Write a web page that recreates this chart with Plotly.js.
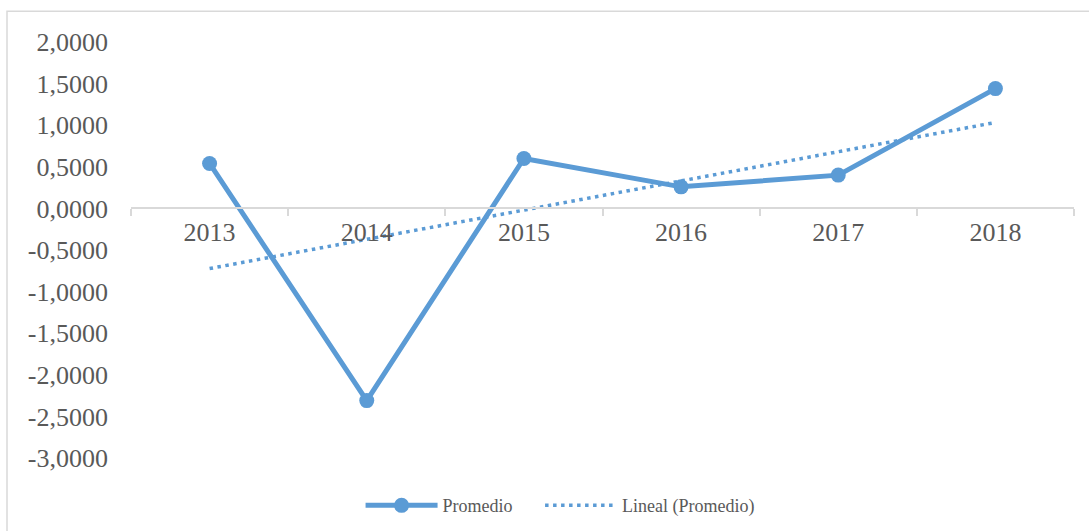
<!DOCTYPE html>
<html>
<head>
<meta charset="utf-8">
<script src="https://cdn.plot.ly/plotly-3.0.1.min.js"></script>
<style>
  html, body { margin: 0; padding: 0; background: #ffffff; }
  #chart { width: 1089px; height: 531px; }
</style>
</head>
<body>
<div id="chart"></div>
<script>
// Data
const years = ['2013', '2014', '2015', '2016', '2017', '2018'];
const promedio = [0.540, -2.310, 0.600, 0.259, 0.400, 1.440];
const yTickValues = [2, 1.5, 1, 0.5, 0, -0.5, -1, -1.5, -2, -2.5, -3];
const yTickLabels = ['2,0000', '1,5000', '1,0000', '0,5000', '0,0000', '-0,5000',
                     '-1,0000', '-1,5000', '-2,0000', '-2,5000', '-3,0000'];

// Linear trendline (least squares on the series, as in the source "Lineal (Promedio)")
const n = promedio.length;
const idx = promedio.map((_, i) => i + 1);
const mx = idx.reduce((a, b) => a + b, 0) / n;
const my = promedio.reduce((a, b) => a + b, 0) / n;
let sxy = 0, sxx = 0;
for (let i = 0; i < n; i++) { sxy += (idx[i] - mx) * (promedio[i] - my); sxx += (idx[i] - mx) ** 2; }
const slope = sxy / sxx;
const intercept = my - slope * mx;
const trend = idx.map(x => intercept + slope * x);

const blue = '#5B9BD5';
const textColor = '#595959';
const font = 'Times New Roman, Liberation Serif, DejaVu Serif, serif';

const traces = [
  {
    x: years, y: promedio, name: 'Promedio\u00a0\u00a0\u00a0\u00a0\u00a0', type: 'scatter', mode: 'lines+markers',
    line: { color: blue, width: 5 },
    marker: { color: blue, size: 15 },
    cliponaxis: false
  },
  {
    x: years, y: trend, name: 'Lineal (Promedio)', type: 'scatter', mode: 'lines',
    line: { color: blue, width: 3.5, dash: '3.5px,4.5px' },
    cliponaxis: false
  }
];

const plotTop = 41.7, plotBottom = 458.3;
const layout = {
  width: 1089, height: 531,
  margin: { l: 131, r: 15, t: plotTop, b: 531 - plotBottom, autoexpand: false },
  paper_bgcolor: '#ffffff', plot_bgcolor: 'rgba(0,0,0,0)',
  font: { family: font, color: textColor },
  showlegend: true,
  legend: {
    orientation: 'h', x: 0.455, xanchor: 'center', y: (plotBottom - 506) / (plotBottom - plotTop), yanchor: 'middle',
    font: { family: font, size: 18, color: textColor },
    itemwidth: 72, traceorder: 'normal'
  },
  xaxis: {
    type: 'category', range: [-0.5, 5.5],
    anchor: 'free', position: 0.6,
    showline: true, linecolor: '#d9d9d9', linewidth: 2,
    ticks: 'outside', tickson: 'boundaries', ticklen: 7, tickcolor: '#d9d9d9', tickwidth: 2,
    showgrid: false, zeroline: false,
    tickfont: { family: font, size: 26, color: textColor }
  },
  yaxis: {
    range: [-3, 2], tickvals: yTickValues, ticktext: yTickLabels,
    showline: false, showgrid: false, zeroline: false, ticks: '',
    ticklabelstandoff: 22,
    tickfont: { family: font, size: 26, color: textColor }
  },
  shapes: [
    {
      type: 'rect', xref: 'paper', yref: 'paper',
      x0: (7 - 131) / 943, x1: (1100 - 131) / 943,
      y0: (plotBottom - 545) / (plotBottom - plotTop), y1: (plotBottom - 11) / (plotBottom - plotTop),
      line: { color: '#d9d9d9', width: 1.5 }, fillcolor: 'rgba(0,0,0,0)', layer: 'below'
    }
  ]
};

Plotly.newPlot('chart', traces, layout, { displayModeBar: false, staticPlot: true });
</script>
</body>
</html>
